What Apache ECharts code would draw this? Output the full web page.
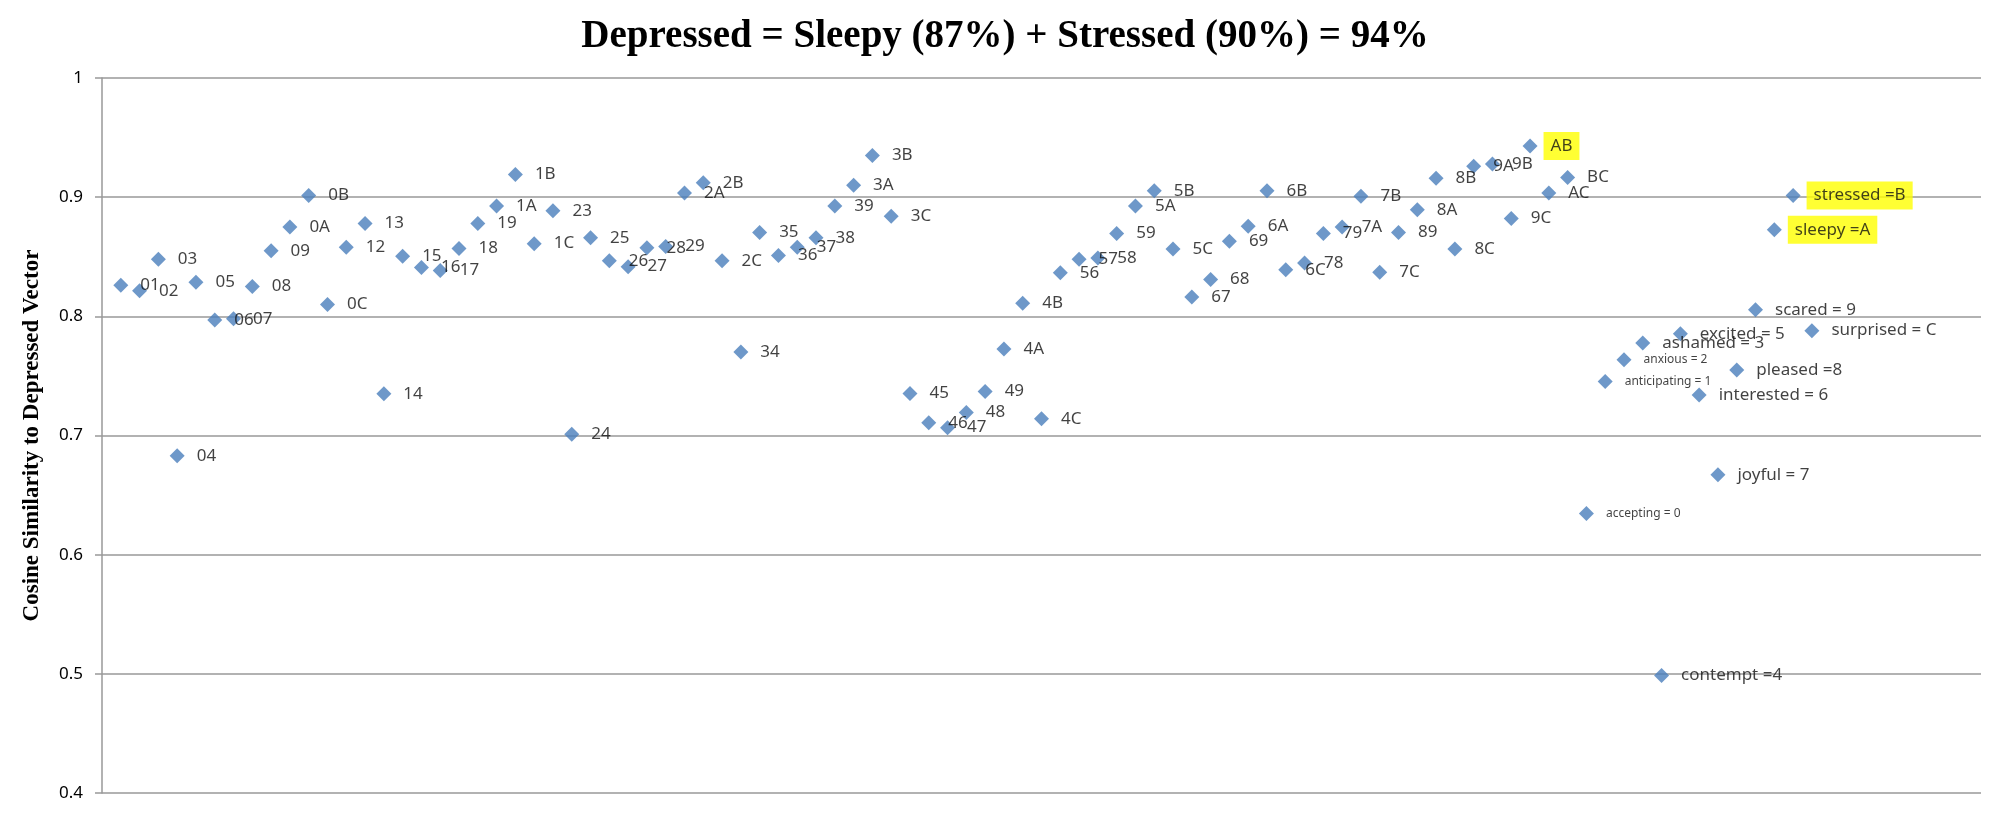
<!DOCTYPE html>
<html>
<head>
<meta charset="utf-8">
<script src="https://cdn.jsdelivr.net/npm/echarts@6/dist/echarts.min.js"></script>
<style>html,body{margin:0;padding:0;background:#fff}#c{width:2010px;height:814px}</style>
</head>
<body>
<div id="c"></div>
<script>
const titleText = 'Depressed = Sleepy (87%) + Stressed (90%) = 94%';
const yAxisTitle = 'Cosine Similarity to Depressed Vector';
const names = ['01','02','03','04','05','06','07','08','09','0A','0B','0C',
  '12','13','14','15','16','17','18','19','1A','1B','1C',
  '23','24','25','26','27','28','29','2A','2B','2C',
  '34','35','36','37','38','39','3A','3B','3C',
  '45','46','47','48','49','4A','4B','4C',
  '56','57','58','59','5A','5B','5C',
  '67','68','69','6A','6B','6C',
  '78','79','7A','7B','7C',
  '89','8A','8B','8C',
  '9A','9B','9C',
  'AB','AC','BC',
  'accepting = 0','anticipating = 1','anxious = 2','ashamed = 3','contempt =4','excited = 5','interested = 6','joyful = 7','pleased =8','scared = 9','sleepy =A','stressed =B','surprised = C'];
const values = [0.826,0.8215,0.848,0.683,0.8285,0.797,0.798,0.825,0.855,0.875,0.9015,0.810,
  0.858,0.878,0.735,0.8505,0.841,0.8385,0.857,0.878,0.8926,0.919,0.861,
  0.8886,0.701,0.866,0.8467,0.8417,0.8576,0.8587,0.9035,0.912,0.8467,
  0.770,0.8704,0.851,0.858,0.866,0.8926,0.910,0.935,0.884,
  0.7353,0.7107,0.7066,0.7194,0.737,0.7726,0.811,0.714,
  0.8366,0.848,0.849,0.8696,0.8926,0.9054,0.8565,
  0.8163,0.831,0.863,0.8755,0.9054,0.839,
  0.8447,0.8696,0.875,0.9007,0.837,
  0.8704,0.8895,0.9158,0.8565,
  0.926,0.9278,0.882,
  0.943,0.9035,0.9166,
  0.6346,0.7454,0.7636,0.7776,0.4987,0.7854,0.734,0.667,0.755,0.8056,0.8727,0.9015,0.788];
const highlighted = ['AB','sleepy =A','stressed =B'];
const smallLabels = ['accepting = 0','anticipating = 1','anxious = 2'];

const data = names.map((n, i) => {
  const item = { name: n, value: [i + 1, values[i]] };
  if (highlighted.includes(n)) {
    item.label = { backgroundColor: '#ffff00', padding: [6, 7, 5, 7], distance: 6 };
  } else if (smallLabels.includes(n)) {
    item.label = { fontSize: 12, color: '#111' };
  }
  return item;
});

const chart = echarts.init(document.getElementById('c'));
chart.setOption({
  animation: false,
  backgroundColor: '#fff',
  title: {
    text: titleText,
    left: 'center',
    top: 12,
    textStyle: { fontFamily: 'Liberation Serif', fontWeight: 'bold', fontSize: 39, color: '#000' }
  },
  grid: { left: 102, right: 29, top: 78, bottom: 21, containLabel: false },
  xAxis: {
    type: 'value', min: 0, max: 100,
    axisLine: { show: false }, axisTick: { show: false }, axisLabel: { show: false },
    splitLine: { show: false }
  },
  yAxis: {
    type: 'value', min: 0.4, max: 1, interval: 0.1,
    name: yAxisTitle, nameLocation: 'middle', nameGap: 58, nameRotate: 90,
    nameTextStyle: { fontFamily: 'Liberation Serif', fontWeight: 'bold', fontSize: 23, color: '#000' },
    axisLine: { show: true, lineStyle: { color: '#999', width: 1.5 } },
    axisTick: { show: true, length: 7, lineStyle: { color: '#999', width: 1.5 } },
    axisLabel: { fontFamily: 'Noto Sans', fontSize: 17, color: '#000', margin: 19 },
    splitLine: { show: true, lineStyle: { color: '#999', width: 1.5 } }
  },
  series: [{
    type: 'scatter',
    symbol: 'diamond',
    symbolSize: 15,
    itemStyle: { color: '#4a7ebb' },
    label: {
      show: true, position: 'right', distance: 12, formatter: '{b}',
      fontFamily: 'Noto Sans', fontSize: 17, color: '#111'
    },
    data: data
  }]
});
</script>
</body>
</html>
